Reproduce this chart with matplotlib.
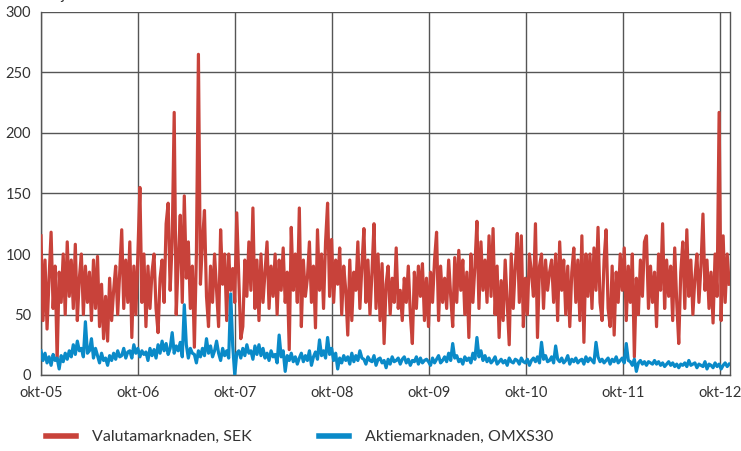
import pandas as pd
import matplotlib.pyplot as plt

valuta_sek = [
    115, 45, 95, 38, 80, 118, 55, 90, 12, 85, 60, 100,
    50, 110, 65, 95, 55, 108, 45, 80, 100, 50, 90, 60,
    85, 45, 95, 55, 98, 40, 75, 30, 65, 28, 80, 45,
    70, 90, 50, 85, 120, 55, 95, 60, 110, 31, 90, 50,
    100, 155, 60, 100, 40, 90, 55, 85, 100, 55, 35, 80,
    95, 60, 125, 142, 70, 110, 217, 50, 95, 132, 60, 148,
    80, 110, 55, 90, 23, 100, 265, 75, 110, 136, 65, 40,
    90, 60, 100, 70, 40, 120, 75, 100, 45, 100, 70, 88,
    60, 134, 80, 30, 40, 95, 65, 110, 70, 138, 55, 95,
    45, 100, 60, 85, 110, 55, 90, 65, 100, 50, 95, 70,
    105, 60, 85, 21, 122, 70, 100, 60, 138, 40, 95, 65,
    80, 110, 60, 90, 39, 120, 70, 100, 55, 110, 142, 65,
    112, 60, 95, 75, 105, 50, 90, 70, 33, 95, 45, 85,
    70, 110, 55, 90, 121, 60, 95, 50, 85, 125, 55, 100,
    45, 92, 26, 75, 90, 50, 80, 60, 105, 55, 70, 45,
    80, 60, 90, 50, 26, 85, 55, 90, 65, 92, 45, 80,
    40, 85, 60, 95, 118, 45, 90, 60, 80, 55, 95, 65,
    40, 97, 60, 103, 70, 95, 50, 85, 31, 100, 60, 90,
    127, 55, 110, 70, 95, 60, 115, 65, 121, 50, 90, 31,
    78, 45, 95, 60, 25, 100, 55, 90, 117, 60, 115, 40,
    80, 50, 100, 85, 65, 125, 31, 90, 100, 55, 95, 70,
    85, 95, 60, 100, 45, 110, 70, 95, 50, 90, 40, 85,
    105, 60, 95, 45, 115, 27, 100, 65, 100, 55, 105, 70,
    122, 60, 45, 95, 120, 55, 40, 90, 33, 85, 60, 100,
    70, 105, 45, 90, 60, 100, 15, 80, 50, 95, 65, 110,
    115, 55, 90, 60, 85, 40, 100, 70, 125, 55, 95, 65,
    90, 45, 105, 60, 26, 85, 110, 55, 120, 65, 95, 50,
    80, 100, 60, 90, 133, 70, 95, 55, 85, 43, 100, 65,
    217, 45, 115, 60, 100, 75,
]

aktie_omxs30 = [
    20, 12, 18, 10, 15, 8, 17, 12, 14, 5, 16, 11,
    18, 13, 20, 15, 25, 17, 28, 20, 22, 15, 44, 18,
    20, 30, 14, 22, 16, 10, 18, 12, 14, 8, 16, 12,
    18, 13, 20, 15, 16, 22, 14, 19, 20, 14, 25, 18,
    22, 15, 20, 17, 19, 12, 22, 16, 21, 14, 25, 18,
    28, 20, 26, 17, 22, 35, 18, 24, 20, 27, 15, 58,
    25, 14, 22, 18, 17, 10, 20, 15, 22, 16, 30, 18,
    24, 15, 20, 28, 18, 12, 22, 16, 20, 14, 67, 24,
    0, 18, 20, 14, 22, 16, 25, 18, 20, 13, 24, 17,
    25, 16, 22, 14, 18, 12, 20, 15, 17, 10, 33, 15,
    20, 3, 16, 12, 18, 11, 15, 9, 14, 18, 11, 16,
    12, 20, 8, 15, 19, 13, 29, 16, 20, 14, 31, 17,
    22, 12, 18, 5, 14, 10, 16, 12, 15, 9, 18, 11,
    16, 12, 20, 14, 13, 9, 15, 12, 11, 16, 8, 13,
    14, 10, 12, 6, 13, 9, 15, 11, 12, 14, 9, 13,
    15, 10, 13, 8, 12, 11, 15, 9, 14, 10, 12, 13,
    11, 8, 14, 10, 13, 16, 10, 12, 15, 11, 18, 12,
    26, 14, 16, 11, 13, 9, 15, 12, 14, 10, 18, 13,
    31, 15, 20, 12, 16, 11, 14, 10, 12, 15, 9, 11,
    13, 10, 12, 8, 14, 11, 10, 13, 12, 9, 14, 11,
    10, 13, 8, 12, 14, 11, 15, 10, 27, 13, 16, 11,
    12, 15, 10, 24, 13, 11, 14, 10, 12, 16, 9, 13,
    11, 14, 10, 12, 13, 9, 15, 11, 14, 12, 10, 27,
    15, 11, 13, 10, 12, 14, 9, 13, 11, 15, 10, 12,
    14, 10, 26, 12, 11, 8, 13, 3, 10, 12, 9, 11,
    8, 11, 10, 9, 12, 9, 11, 8, 10, 7, 9, 11,
    8, 10, 7, 9, 6, 9, 8, 10, 7, 12, 8, 9,
    10, 6, 9, 8, 7, 11, 5, 9, 8, 6, 10, 7,
    9, 5, 8, 10, 7, 9,
]

labels = ['Valutamarknaden, SEK', 'Aktiemarknaden, OMXS30']
tick_years = [2005, 2006, 2007, 2008, 2009, 2010, 2011, 2012]

dates = pd.date_range('2005-10-01', '2012-11-05', periods=len(valuta_sek))

plt.rcParams['font.family'] = ['Lato', 'DejaVu Sans']
fig = plt.figure(figsize=(7.41, 4.51), dpi=100)
ax = fig.add_axes([41 / 741, 76 / 451, 689 / 741, 363 / 451])

ax.plot(dates, valuta_sek, color='#c8423a', lw=2.3, label=labels[0], zorder=3)
ax.plot(dates, aktie_omxs30, color='#0a8ac8', lw=2.3, label=labels[1], zorder=4)

ax.set_ylim(0, 300)
ax.set_yticks(range(0, 301, 50))
ax.set_xlim(pd.Timestamp('2005-10-01'), pd.Timestamp('2012-11-08'))
ax.set_xticks([pd.Timestamp(f'{y}-10-01') for y in tick_years])
ax.set_xticklabels([f'okt-{str(y)[2:]}' for y in tick_years])

ax.grid(True, color='#555555', lw=1)
ax.set_axisbelow(True)
for s in ax.spines.values():
    s.set_color('#555555')
    s.set_linewidth(1)
ax.spines['top'].set_visible(False)
ax.tick_params(length=0, labelsize=10.5, colors='#333333', pad=8)
ax.tick_params(axis='y', pad=7)

# unit label, cut off at the very top as in the original
fig.text(0.055, 1 + 0.5 / 451, 'Miljarder', fontsize=11, color='#333333', va='baseline')

fig.legend(loc='center left', bbox_to_anchor=(0.043, 14 / 451), ncol=2, frameon=False,
           fontsize=11.5, handlelength=1.88, columnspacing=4.2, handletextpad=1.0,
           labelcolor='#333333')
for line in fig.legends[0].get_lines():
    line.set_linewidth(4)

fig.savefig('out.png', dpi=100)
